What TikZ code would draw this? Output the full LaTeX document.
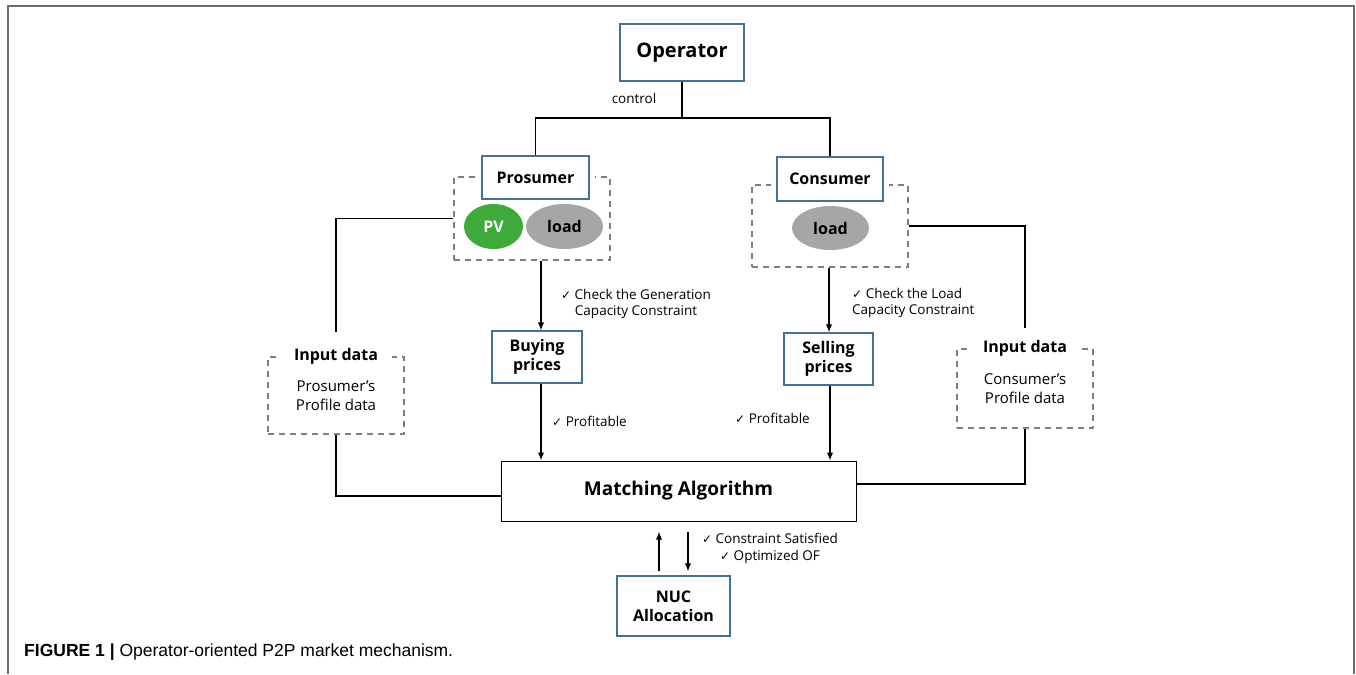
\documentclass[tikz,border=0pt]{standalone}
\usepackage{fontspec}
\setmainfont{Open Sans}
\newfontfamily\capfont{Liberation Sans}
\newfontfamily\chkfont{DejaVu Sans}
\usetikzlibrary{shapes.geometric,arrows.meta}
\definecolor{boxblue}{HTML}{41719C}
\definecolor{dashgray}{HTML}{7F7F7F}
\definecolor{framegray}{HTML}{6E6E6E}
\definecolor{pvgreen}{HTML}{3DAA39}
\definecolor{loadgray}{HTML}{A6A6A6}
\newcommand{\chk}{{\chkfont\fontsize{12}{14}\selectfont ✓}}
\tikzset{
  bluebox/.style={draw=boxblue, line width=1.1pt, fill=white, inner sep=0pt, align=center,
    font=\bfseries\fontsize{16}{19}\selectfont},
  dashbox/.style={draw=dashgray, line width=1.2pt, dash pattern=on 6pt off 5pt, inner sep=0pt},
  conn/.style={line width=1.5pt, black},
  arr/.style={conn, -{Latex[length=8pt,width=6.5pt]}},
  lbl/.style={font=\fontsize{13.5}{16.5}\selectfont, inner sep=0pt},
  blob/.style={ellipse, inner sep=0pt, font=\bfseries\fontsize{16}{19}\selectfont},
  halo/.style={preaction={draw=white, line width=12pt, solid}}
}
\begin{document}
\begin{tikzpicture}[x=1pt,y=-1pt]
\useasboundingbox (0,0) rectangle (1356,674);
% frame
\draw[framegray, line width=1.5pt] (8,674) -- (8,6) -- (1354,6) -- (1354,674);

% dashed groups
\node[dashbox, minimum width=156pt, minimum height=83pt] (prodash) at (532,218.5) {};
\node[dashbox, minimum width=156pt, minimum height=82pt] (condash) at (830,226) {};
\node[dashbox, minimum width=136pt, minimum height=77pt, align=center,
      font=\fontsize{15}{19}\selectfont] (inL) at (336,395.5) {Prosumer’s\\Profile data};
\node[dashbox, minimum width=136pt, minimum height=79pt, align=center,
      font=\fontsize{15}{19}\selectfont] (inR) at (1025,388.5) {Consumer’s\\Profile data};
\node[fill=white, inner xsep=14pt, inner ysep=2pt, font=\bfseries\fontsize{16}{19}\selectfont]
      (inLt) at (inL.north) {Input data};
\node[fill=white, inner xsep=14pt, inner ysep=2pt, font=\bfseries\fontsize{16}{19}\selectfont]
      (inRt) at (inR.north) {Input data};

% boxes
\node[bluebox, minimum width=124pt, minimum height=57pt, font=\bfseries\fontsize{20}{24}\selectfont]
      (op) at (682,52.5) {Operator};
\node[bluebox, halo, minimum width=107pt, minimum height=43pt] (pro) at (535.5,177.5) {Prosumer};
\node[bluebox, halo, minimum width=106pt, minimum height=44pt] (con) at (830,179) {Consumer};
\node[bluebox, minimum width=90pt, minimum height=52pt] (buy) at (537,357) {Buying\\prices};
\node[bluebox, minimum width=89pt, minimum height=52pt] (sell) at (828.5,359) {Selling\\prices};
\node[bluebox, draw=black, line width=1pt, minimum width=355pt, minimum height=60pt,
      font=\bfseries\fontsize{19}{23}\selectfont] (match) at (678.5,491) {Matching Algorithm};
\node[bluebox, minimum width=113pt, minimum height=60pt] (nuc) at (673.5,606) {NUC\\Allocation};

% ellipses
\node[blob, fill=pvgreen, text=white, minimum width=59pt, minimum height=45pt] (pv) at (493.5,226.5) {PV};
\node[blob, fill=loadgray, minimum width=77pt, minimum height=45pt] (load1) at (564.5,226.5) {load};
\node[blob, fill=loadgray, minimum width=77pt, minimum height=44pt] (load2) at (830.5,228) {load};

% control tree
\coordinate (j) at (682,118);
\draw[conn] (op.south) -- (j);
\draw[conn] (pro.north) |- (j) -| (con.north);
\node[lbl] (ctl) at (634,98) {control};

% side lines
\draw[conn] (prodash.west) -| ([yshift=24pt]inL.north);
\draw[conn] (inL.south) |- ([yshift=-5pt]match.west);
\draw[conn] (condash.east) -| ([yshift=20pt]inR.north);
\draw[conn] (inR.south) |- ([yshift=7pt]match.east);

% flow arrows
\draw[arr] ([xshift=4pt]buy.north |- prodash.south) -- ([xshift=4pt]buy.north);
\draw[arr] ([xshift=4pt]buy.south) -- ([xshift=4pt]buy.south |- match.north);
\draw[arr] ([xshift=0.5pt]sell.north |- condash.south) -- ([xshift=0.5pt]sell.north);
\draw[arr] ([xshift=1.5pt]sell.south) -- ([xshift=1.5pt]sell.south |- match.north);
\draw[arr] ([xshift=-14.5pt,yshift=4pt]nuc.north) -- ([xshift=-14.5pt,yshift=-10pt]nuc.north |- match.south);
\draw[arr] ([xshift=14.5pt,yshift=-10pt]nuc.north |- match.south) -- ([xshift=14.5pt,yshift=4pt]nuc.north);

% labels
\node[lbl, align=center] (lgen) at (636,304) {\chk\ Check the Generation\\Capacity Constraint};
\node[lbl, align=left, anchor=west] (lload) at (852,303) {\chk\ Check the Load\\Capacity Constraint};
\node[lbl, anchor=west] (lp1) at (552,421) {\chk\ Profitable};
\node[lbl, anchor=west] (lp2) at (735,418) {\chk\ Profitable};
\node[lbl, align=center] (lcs) at (770,548.5) {\chk\ Constraint Satisfied\\\chk\ Optimized OF};

% caption
\node[anchor=base west, inner sep=0pt, font=\capfont\fontsize{17.5}{21}\selectfont] (cap) at (24,656)
  {\textbf{FIGURE 1 |} Operator-oriented P2P market mechanism.};
\end{tikzpicture}
\end{document}
